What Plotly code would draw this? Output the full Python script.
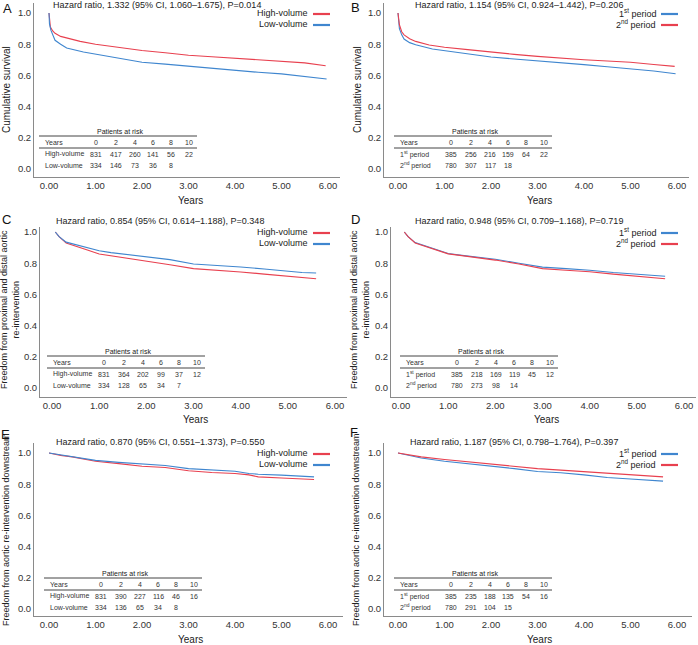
import plotly.graph_objects as go

W, H = 698, 645
RED = "#e8404f"
BLUE = "#3f86cf"
FONT = "Liberation Sans, Arial, sans-serif"

# ---------------- data ----------------
years_ticks = [0, 1, 2, 3, 4, 5, 6]
years_ticktext = ["0.00", "1.00", "2.00", "3.00", "4.00", "5.00", "6.00"]
surv_ticks = [0, 0.2, 0.4, 0.6, 0.8, 1.0]
surv_ticktext = ["0.0", "0.2", "0.4", "0.6", "0.8", "1.0"]

# Panel A: overall survival by volume
a_t_high = [0, 0.01, 0.03, 0.08, 0.13, 0.25, 0.38, 0.67, 1.0, 1.5, 2.0, 2.5, 3.0, 3.5, 4.0, 4.5, 5.0, 5.5, 5.95]
a_s_high = [1.0, 0.95, 0.91, 0.885, 0.87, 0.85, 0.84, 0.818, 0.80, 0.78, 0.76, 0.745, 0.729, 0.72, 0.71, 0.70, 0.694, 0.68, 0.662]
a_t_low = [0, 0.01, 0.04, 0.08, 0.13, 0.25, 0.38, 0.74, 1.0, 1.5, 2.0, 2.5, 3.0, 3.5, 4.0, 4.5, 5.0, 5.5, 5.97]
a_s_low = [1.0, 0.93, 0.89, 0.855, 0.825, 0.80, 0.776, 0.75, 0.737, 0.71, 0.684, 0.672, 0.658, 0.645, 0.632, 0.62, 0.61, 0.595, 0.577]

# Panel B: overall survival by period
b_t_1st = [0, 0.01, 0.03, 0.08, 0.13, 0.25, 0.38, 0.74, 1.0, 1.5, 2.0, 2.5, 3.0, 3.5, 4.0, 4.5, 5.0, 5.5, 5.97]
b_s_1st = [1.0, 0.93, 0.90, 0.86, 0.833, 0.81, 0.797, 0.769, 0.758, 0.74, 0.718, 0.705, 0.694, 0.68, 0.669, 0.655, 0.643, 0.628, 0.611]
b_t_2nd = [0, 0.01, 0.03, 0.08, 0.13, 0.25, 0.38, 0.67, 1.0, 1.5, 2.0, 2.5, 3.0, 3.5, 4.0, 4.5, 5.0, 5.5, 5.95]
b_s_2nd = [1.0, 0.95, 0.925, 0.88, 0.86, 0.835, 0.818, 0.795, 0.78, 0.765, 0.748, 0.735, 0.722, 0.71, 0.70, 0.692, 0.684, 0.67, 0.658]

# Panel C: freedom from proximal/distal re-intervention by volume
c_t_high = [0.07, 0.15, 0.3, 0.5, 0.75, 1.0, 1.25, 1.5, 2.0, 2.5, 3.0, 3.5, 4.0, 4.5, 5.0, 5.3, 5.6]
c_s_high = [1.0, 0.97, 0.93, 0.908, 0.885, 0.859, 0.848, 0.838, 0.816, 0.79, 0.765, 0.756, 0.744, 0.73, 0.716, 0.705, 0.70]
c_t_low = [0.07, 0.15, 0.3, 0.5, 0.75, 1.0, 1.25, 1.5, 2.0, 2.5, 3.0, 3.5, 4.0, 4.5, 5.0, 5.3, 5.6]
c_s_low = [1.0, 0.97, 0.935, 0.919, 0.90, 0.88, 0.868, 0.859, 0.844, 0.823, 0.795, 0.786, 0.776, 0.763, 0.748, 0.74, 0.737]

# Panel D: freedom from proximal/distal re-intervention by period
d_t_1st = [0.07, 0.15, 0.3, 0.5, 0.75, 1.0, 1.25, 1.5, 2.0, 2.5, 3.0, 3.5, 4.0, 4.5, 5.0, 5.3, 5.6]
d_s_1st = [1.0, 0.97, 0.932, 0.912, 0.89, 0.862, 0.852, 0.842, 0.825, 0.80, 0.775, 0.765, 0.755, 0.74, 0.73, 0.72, 0.716]
d_t_2nd = [0.07, 0.15, 0.3, 0.5, 0.75, 1.0, 1.25, 1.5, 2.0, 2.5, 3.0, 3.5, 4.0, 4.5, 5.0, 5.3, 5.6]
d_s_2nd = [1.0, 0.97, 0.93, 0.91, 0.888, 0.86, 0.85, 0.84, 0.82, 0.795, 0.765, 0.755, 0.745, 0.73, 0.715, 0.705, 0.70]

# Panel E: freedom from downstream re-intervention by volume
e_t_high = [0.0, 0.25, 0.5, 1.0, 1.5, 2.0, 2.5, 3.0, 3.5, 4.0, 4.3, 4.5, 5.0, 5.7]
e_s_high = [1.0, 0.985, 0.975, 0.947, 0.932, 0.915, 0.907, 0.886, 0.875, 0.869, 0.86, 0.847, 0.84, 0.83]
e_t_low = [0.0, 0.25, 0.5, 1.0, 1.5, 2.0, 2.5, 3.0, 3.5, 4.0, 4.3, 4.5, 5.0, 5.7]
e_s_low = [1.0, 0.988, 0.979, 0.953, 0.94, 0.928, 0.92, 0.90, 0.89, 0.883, 0.869, 0.864, 0.858, 0.847]

# Panel F: freedom from downstream re-intervention by period
f_t_1st = [0.0, 0.25, 0.5, 1.0, 1.5, 2.0, 2.5, 3.0, 3.5, 4.0, 4.5, 5.0, 5.7]
f_s_1st = [1.0, 0.982, 0.968, 0.947, 0.932, 0.915, 0.90, 0.881, 0.873, 0.86, 0.843, 0.833, 0.82]
f_t_2nd = [0.0, 0.25, 0.5, 1.0, 1.5, 2.0, 2.5, 3.0, 3.5, 4.0, 4.5, 5.0, 5.7]
f_s_2nd = [1.0, 0.987, 0.975, 0.958, 0.943, 0.928, 0.915, 0.90, 0.89, 0.881, 0.869, 0.86, 0.847]

risk_years = ["0", "2", "4", "6", "8", "10"]
vol_labels = ["High-volume", "Low-volume"]
per_labels = ["1<sup>st</sup> period", "2<sup>nd</sup> period"]
a_risk = [[831, 417, 260, 141, 56, 22], [334, 146, 73, 36, 8]]
b_risk = [[385, 256, 216, 159, 64, 22], [780, 307, 117, 18]]
c_risk = [[831, 364, 202, 99, 37, 12], [334, 128, 65, 34, 7]]
d_risk = [[385, 218, 169, 119, 45, 12], [780, 273, 98, 14]]
e_risk = [[831, 390, 227, 116, 46, 16], [334, 136, 65, 34, 8]]
f_risk = [[385, 235, 188, 135, 54, 16], [780, 291, 104, 15]]

titles = [
    "Hazard ratio, 1.332 (95% CI, 1.060–1.675), P=0.014",
    "Hazard ratio, 1.154 (95% CI, 0.924–1.442), P=0.206",
    "Hazard ratio, 0.854 (95% CI, 0.614–1.188), P=0.348",
    "Hazard ratio, 0.948 (95% CI, 0.709–1.168), P=0.719",
    "Hazard ratio, 0.870 (95% CI, 0.551–1.373), P=0.550",
    "Hazard ratio, 1.187 (95% CI, 0.798–1.764), P=0.397",
]
ytitles = [
    "Cumulative survival", "Cumulative survival",
    "Freedom from proximal and distal aortic<br>re-intervention",
    "Freedom from proximal and distal aortic<br>re-intervention",
    "Freedom from aortic re-intervention downstream",
    "Freedom from aortic re-intervention downstream",
]
letters = ["A", "B", "C", "D", "E", "F"]

# ---------------- layout helpers ----------------
def px(x):
    return x / W

def py(y):
    return 1 - y / H

# left, right, top, bottom, x0px, x6px, y0px, y1px
geom = [
    (34, 340, 3, 177, 49, 328, 169, 13),
    (384, 689, 3, 177, 398, 677, 169, 13),
    (40, 347, 227, 397, 52, 335, 388, 232),
    (391, 696, 227, 397, 401, 684, 388, 232),
    (34, 343, 443, 616, 49, 328, 609, 453),
    (384, 692, 443, 616, 398, 677, 609, 453),
]

panels = [
    ([(a_t_high, a_s_high, "High-volume", RED), (a_t_low, a_s_low, "Low-volume", BLUE)], a_risk, vol_labels),
    ([(b_t_1st, b_s_1st, per_labels[0], BLUE), (b_t_2nd, b_s_2nd, per_labels[1], RED)], b_risk, per_labels),
    ([(c_t_high, c_s_high, "High-volume", RED), (c_t_low, c_s_low, "Low-volume", BLUE)], c_risk, vol_labels),
    ([(d_t_1st, d_s_1st, per_labels[0], BLUE), (d_t_2nd, d_s_2nd, per_labels[1], RED)], d_risk, per_labels),
    ([(e_t_high, e_s_high, "High-volume", RED), (e_t_low, e_s_low, "Low-volume", BLUE)], e_risk, vol_labels),
    ([(f_t_1st, f_s_1st, per_labels[0], BLUE), (f_t_2nd, f_s_2nd, per_labels[1], RED)], f_risk, per_labels),
]

# text placements (pixels)
title_pos = [(157, 5), (519, 5), (160, 221), (519, 221), (160, 442), (514, 442)]
letter_pos = [(7, 8), (355, 7), (6, 220), (355, 220), (5, 434), (354, 433)]
legend_pos = [(310, 13, 24), (658, 13, 24), (310, 232, 243), (658, 232, 243), (310, 453, 464), (658, 453, 464)]
ytitle_pos = [(6, 90), (357, 90), (10, 310), (360, 310), (6, 530), (356, 530)]
xtitle_pos = [(190, 200), (539, 200), (195, 419), (546, 419), (190, 639), (539, 639)]
table_anchor = [(43, 136), (398, 136), (51, 356), (404, 356), (48, 578), (398, 578)]
col_off = [53, 73, 92, 110, 128, 146]

fig = go.Figure()
annotations = []
shapes = []

for i, (series, risk, rowlabels) in enumerate(panels):
    left, right, top, bottom, x0p, x6p, y0p, y1p = geom[i]
    sx = 6.0 / (x6p - x0p)
    sy = 1.0 / (y0p - y1p)
    xr = [(left - x0p) * sx, (right - x0p) * sx]
    yr = [(y0p - bottom) * sy, (y0p - top) * sy]
    xa = "xaxis" if i == 0 else f"xaxis{i+1}"
    ya = "yaxis" if i == 0 else f"yaxis{i+1}"
    xref = "x" if i == 0 else f"x{i+1}"
    yref = "y" if i == 0 else f"y{i+1}"
    fig.update_layout(**{
        xa: dict(domain=[px(left), px(right)], range=xr, anchor=yref,
                 tickvals=years_ticks, ticktext=years_ticktext, showgrid=False,
                 zeroline=False, showline=True, linecolor="#8a8a8a", linewidth=1,
                 ticks="", ticklen=0, tickfont=dict(size=9.5, color="#333", family=FONT)),
        ya: dict(domain=[py(bottom), py(top)], range=yr, anchor=xref,
                 tickvals=surv_ticks, ticktext=surv_ticktext, showgrid=False,
                 zeroline=False, showline=True, linecolor="#8a8a8a", linewidth=1,
                 ticks="", ticklen=0, tickfont=dict(size=9.5, color="#333", family=FONT)),
    })
    for (t, s, name, color) in series:
        fig.add_trace(go.Scatter(x=t, y=s, mode="lines", name=name,
                                 line=dict(color=color, width=1.1),
                                 xaxis=xref, yaxis=yref, showlegend=False,
                                 hoverinfo="skip"))
    tx, ty = title_pos[i]
    annotations.append(dict(x=px(tx), y=py(ty), xref="paper", yref="paper", text=titles[i],
                            showarrow=False, xanchor="center", yanchor="middle",
                            font=dict(size=9, color="#222", family=FONT)))
    lx, ly = letter_pos[i]
    annotations.append(dict(x=px(lx), y=py(ly), xref="paper", yref="paper", text=letters[i],
                            showarrow=False, xanchor="center", yanchor="middle",
                            font=dict(size=13, color="#111", family=FONT)))
    lgx, lgy1, lgy2 = legend_pos[i]
    for (t, s, name, color), yy in zip(series, [lgy1, lgy2]):
        annotations.append(dict(x=px(lgx), y=py(yy), xref="paper", yref="paper", text=name,
                                showarrow=False, xanchor="right", yanchor="middle",
                                font=dict(size=9, color="#222", family=FONT)))
        shapes.append(dict(type="line", xref="paper", yref="paper",
                           x0=px(lgx + 3), x1=px(lgx + 20), y0=py(yy + 1), y1=py(yy + 1),
                           line=dict(color=color, width=2.2)))
    yx, yy = ytitle_pos[i]
    annotations.append(dict(x=px(yx), y=py(yy), xref="paper", yref="paper", text=ytitles[i],
                            showarrow=False, textangle=-90, xanchor="center", yanchor="middle",
                            font=dict(size=10 if i < 2 else 9, color="#222", family=FONT)))
    xx, xy = xtitle_pos[i]
    annotations.append(dict(x=px(xx), y=py(xy), xref="paper", yref="paper", text="Years",
                            showarrow=False, xanchor="center", yanchor="middle",
                            font=dict(size=10, color="#222", family=FONT)))
    ax_, ay_ = table_anchor[i]
    tfont = dict(size=7, color="#333", family=FONT)
    annotations.append(dict(x=px(ax_ + 77), y=py(ay_ - 5), xref="paper", yref="paper",
                            text="Patients at risk", showarrow=False, xanchor="center",
                            yanchor="middle", font=dict(size=7, color="#222", family=FONT)))
    for yline in (ay_, ay_ + 12):
        shapes.append(dict(type="line", xref="paper", yref="paper",
                           x0=px(ax_ - 4), x1=px(ax_ + 154), y0=py(yline), y1=py(yline),
                           line=dict(color="#444", width=1)))
    rows = [("Years", risk_years, ay_ + 6.5), (rowlabels[0], risk[0], ay_ + 18), (rowlabels[1], risk[1], ay_ + 29.5)]
    for label, vals, yy in rows:
        annotations.append(dict(x=px(ax_), y=py(yy), xref="paper", yref="paper", text=label,
                                showarrow=False, xanchor="left", yanchor="middle", font=tfont))
        for v, off in zip(vals, col_off):
            annotations.append(dict(x=px(ax_ + off), y=py(yy), xref="paper", yref="paper",
                                    text=str(v), showarrow=False, xanchor="center",
                                    yanchor="middle", font=tfont))

fig.update_layout(width=W, height=H, margin=dict(l=0, r=0, t=0, b=0),
                  paper_bgcolor="white", plot_bgcolor="white",
                  annotations=annotations, shapes=shapes,
                  font=dict(family=FONT), showlegend=False)
fig.write_html("out.html", config={"displayModeBar": False},
               post_script="document.body.style.margin='0px';")
